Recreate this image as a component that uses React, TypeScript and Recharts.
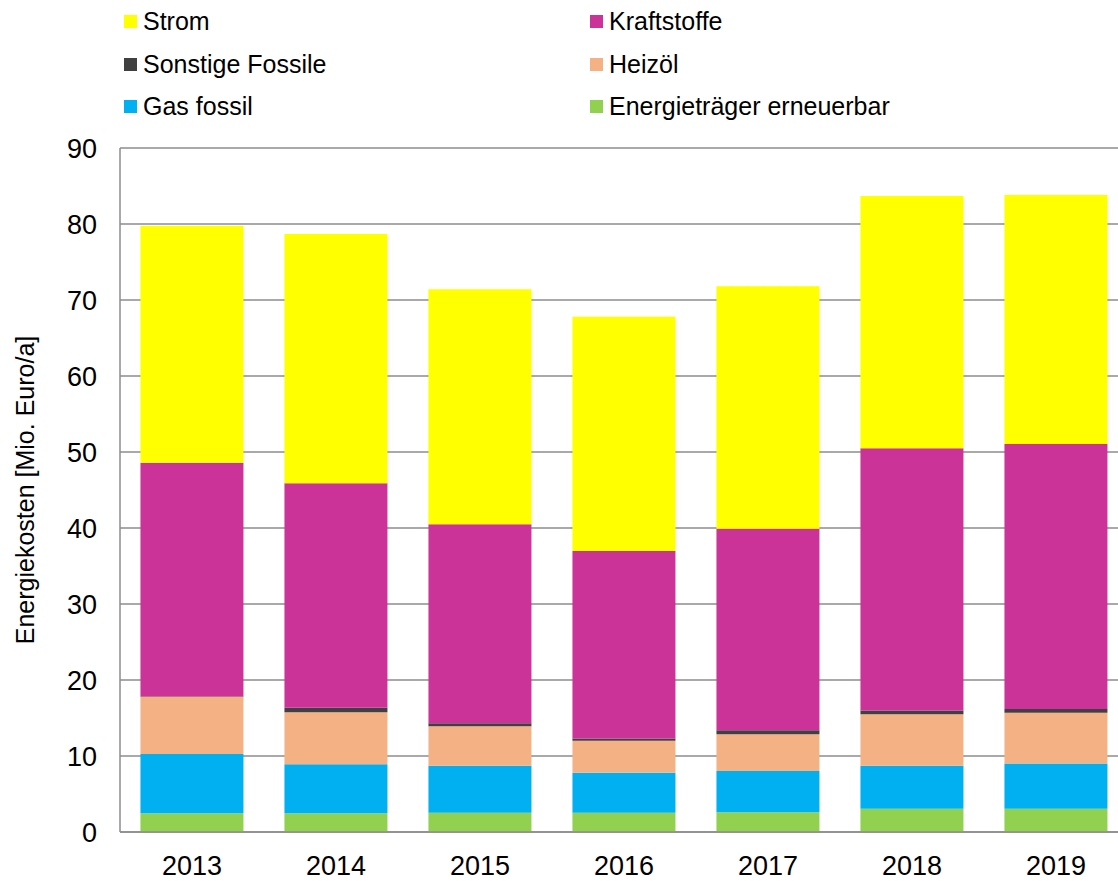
import React from "react";
import { BarChart, Bar, XAxis, YAxis, CartesianGrid } from "recharts";

const years = ["2013", "2014", "2015", "2016", "2017", "2018", "2019"];
const erneuerbar = [2.46, 2.46, 2.54, 2.54, 2.59, 3.07, 3.07];
const gasFossil = [7.8, 6.44, 6.19, 5.26, 5.44, 5.66, 5.93];
const heizoel = [7.54, 6.85, 5.17, 4.2, 4.82, 6.77, 6.7];
const sonstige = [0.05, 0.61, 0.4, 0.3, 0.55, 0.5, 0.5];
const kraftstoffe = [30.75, 29.54, 26.2, 24.67, 26.5, 34.5, 34.85];
const strom = [31.15, 32.8, 30.9, 30.83, 31.9, 33.2, 32.75];
const yTicks = [0, 10, 20, 30, 40, 50, 60, 70, 80, 90];

const series = [
  { key: "erneuerbar", name: "Energieträger erneuerbar", color: "#92D050", values: erneuerbar },
  { key: "gas", name: "Gas fossil", color: "#00B0F0", values: gasFossil },
  { key: "heizoel", name: "Heizöl", color: "#F4B183", values: heizoel },
  { key: "sonstige", name: "Sonstige Fossile", color: "#404040", values: sonstige },
  { key: "kraft", name: "Kraftstoffe", color: "#CC3399", values: kraftstoffe },
  { key: "strom", name: "Strom", color: "#FFFF00", values: strom },
];

const legendOrder = ["strom", "kraft", "sonstige", "heizoel", "gas", "erneuerbar"];

const data = years.map((y, i) => {
  const row: Record<string, string | number> = { year: y };
  series.forEach((s) => {
    row[s.key] = s.values[i];
  });
  return row;
});

const FONT = "'Liberation Sans', Arial, sans-serif";

export default function App() {
  return (
    <div style={{ position: "absolute", left: 0, top: 0, width: 1118, height: 881, overflow: "hidden", fontFamily: FONT, background: "#fff" }}>
      <BarChart
        width={1128}
        height={881}
        data={data}
        margin={{ top: 148, right: 0, left: 0, bottom: 0 }}
        barCategoryGap="14.2%"
      >
        <CartesianGrid vertical={false} stroke="#8c8c8c" strokeWidth={1.5} />
        <XAxis
          dataKey="year"
          axisLine={{ stroke: "#8c8c8c", strokeWidth: 1.5 }}
          tickLine={false}
          tickSize={0}
          tickMargin={24}
          tick={{ fill: "#000", fontSize: 27, fontFamily: FONT }}
          height={49}
        />
        <YAxis
          width={120}
          domain={[0, 90]}
          ticks={yTicks}
          interval={0}
          axisLine={{ stroke: "#8c8c8c", strokeWidth: 1.5 }}
          tickLine={false}
          tickSize={0}
          tickMargin={23}
          tick={{ fill: "#000", fontSize: 27, fontFamily: FONT }}
          label={{
            content: () => (
              <text
                x={25}
                y={490}
                transform="rotate(-90 25 490)"
                textAnchor="middle"
                dominantBaseline="central"
                fontSize={25}
                fontFamily={FONT}
                fill="#000"
              >
                Energiekosten [Mio. Euro/a]
              </text>
            ),
          }}
        />
        {series.map((s) => (
          <Bar key={s.key} dataKey={s.key} name={s.name} stackId="a" fill={s.color} isAnimationActive={false} />
        ))}
      </BarChart>
      <div style={{ position: "absolute", left: 0, top: 0, width: 1118, height: 130 }}>
        {legendOrder.map((k, idx) => {
          const s = series.find((x) => x.key === k)!;
          const col = idx % 2;
          const row = Math.floor(idx / 2);
          const left = col === 0 ? 124 : 590;
          const cy = 21.5 + row * 42.6;
          return (
            <div key={k} style={{ position: "absolute", left, top: cy - 15, height: 30, display: "flex", alignItems: "center", whiteSpace: "nowrap" }}>
              <span style={{ display: "inline-block", width: 13, height: 13, background: s.color, marginRight: 6 }} />
              <span style={{ fontSize: 25, fontFamily: FONT, color: "#000" }}>{s.name}</span>
            </div>
          );
        })}
      </div>
    </div>
  );
}
